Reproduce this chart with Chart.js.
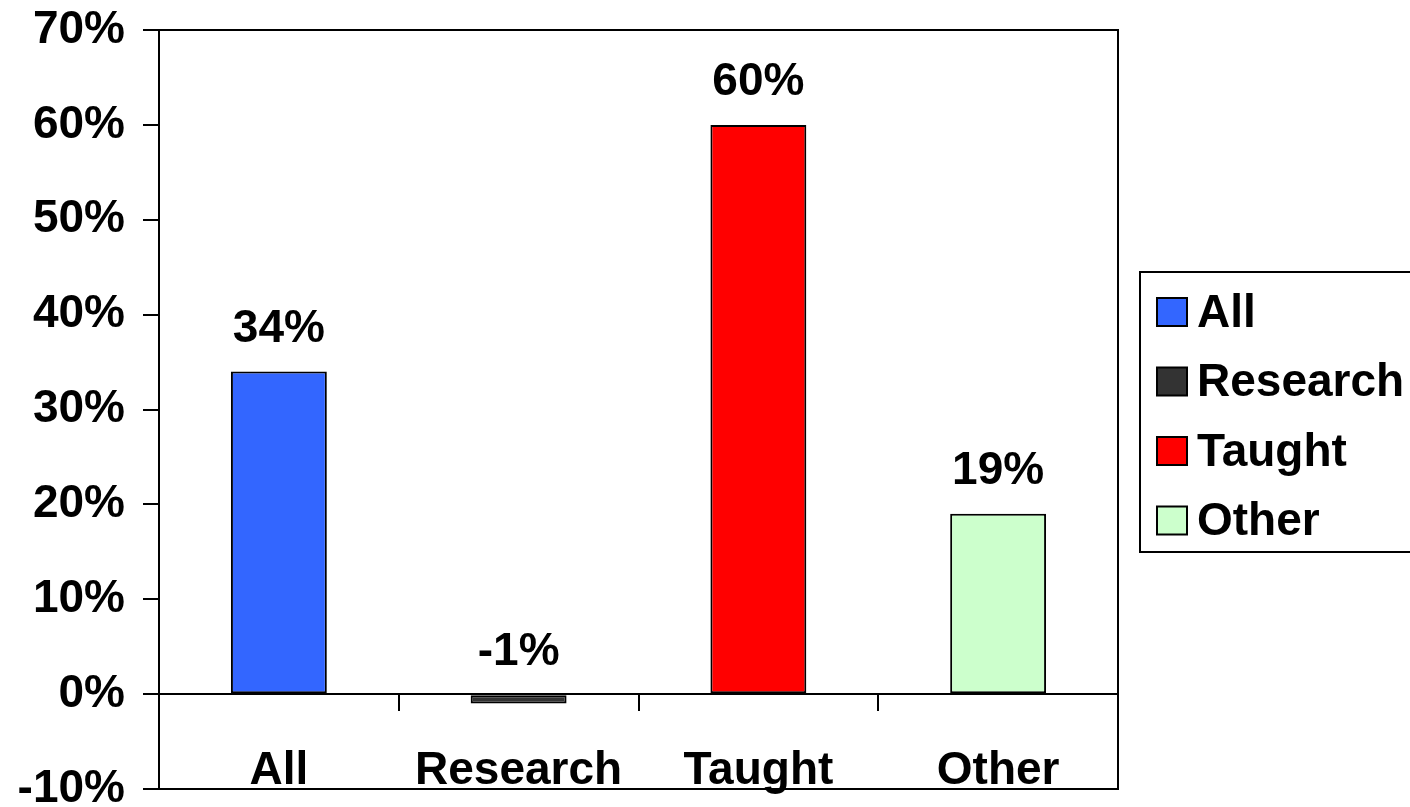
<!DOCTYPE html>
<html>
<head>
<meta charset="utf-8">
<script src="https://cdn.jsdelivr.net/npm/chart.js@4"></script>
<style>
  html, body { margin: 0; padding: 0; background: #fff; }
  #wrap { width: 1410px; height: 807px; position: relative; }
</style>
</head>
<body>
<div id="wrap"><canvas id="chart"></canvas></div>
<script>
const categories = ['All', 'Research', 'Taught', 'Other'];
const changePct = [34, -1, 60, 19];
const barColors = ['#3366ff', '#333333', '#ff0000', '#ccffcc'];
const yMin = -10;
const yMax = 70;
const yStep = 10;

const FAMILY = '"Liberation Sans", Arial, sans-serif';
const FONT = 'bold 46px ' + FAMILY;

// frame, zero line, category names, value labels and the boxed legend
const decorations = {
    id: 'decorations',
    afterDatasetsDraw(chart) {
        const { ctx, chartArea: a, scales: { x, y } } = chart;
        ctx.save();
        ctx.strokeStyle = '#000';
        ctx.lineWidth = 2;

        ctx.strokeRect(a.left, a.top, a.right - a.left, a.bottom - a.top);

        const y0 = Math.round(y.getPixelForValue(0));
        const half = (x.getPixelForValue(1) - x.getPixelForValue(0)) / 2;
        ctx.beginPath();
        ctx.moveTo(a.left, y0);
        ctx.lineTo(a.right, y0);
        for (let i = 0; i < categories.length - 1; i++) {
            const xb = Math.round(x.getPixelForValue(i) + half);
            ctx.moveTo(xb, y0);
            ctx.lineTo(xb, y0 + 17);
        }
        ctx.stroke();

        ctx.font = FONT;
        ctx.fillStyle = '#000';
        ctx.textAlign = 'center';
        ctx.textBaseline = 'alphabetic';
        categories.forEach((c, i) => ctx.fillText(c, x.getPixelForValue(i), a.bottom - 5));

        chart.getDatasetMeta(0).data.forEach((bar, i) => {
            ctx.fillText(changePct[i] + '%', bar.x, Math.min(bar.y, bar.base) - 30);
        });

        // legend
        const lx = a.right + 22;
        const ly = 272;
        ctx.strokeRect(lx, ly, chart.width - lx + 4, 280);
        ctx.textAlign = 'left';
        ctx.textBaseline = 'middle';
        categories.forEach((c, i) => {
            const cy = ly + 40 + i * 69.5;
            ctx.fillStyle = barColors[i];
            ctx.fillRect(lx + 17, cy - 14, 30, 28);
            ctx.strokeRect(lx + 17, cy - 14, 30, 28);
            ctx.fillStyle = '#000';
            ctx.fillText(c, lx + 57, cy + 2);
        });
        ctx.restore();
    }
};

new Chart(document.getElementById('chart'), {
    type: 'bar',
    data: {
        labels: categories,
        datasets: [{
            data: changePct,
            backgroundColor: barColors,
            borderColor: '#000',
            borderWidth: 2,
            borderSkipped: false,
            categoryPercentage: 1,
            barPercentage: 0.4
        }]
    },
    options: {
        responsive: true,
        maintainAspectRatio: false,
        animation: false,
        layout: { padding: { top: 30, right: 292, bottom: 18, left: 0 } },
        plugins: {
            legend: { display: false },
            tooltip: { enabled: false }
        },
        scales: {
            x: { display: false },
            y: {
                min: yMin,
                max: yMax,
                ticks: {
                    stepSize: yStep,
                    padding: 18,
                    color: '#000',
                    font: { family: FAMILY, size: 46, weight: 'bold' },
                    callback: v => v + '%'
                },
                grid: { drawOnChartArea: false, tickLength: 16, color: '#000', lineWidth: 2 },
                border: { display: false },
                afterFit: s => {
                    s.width = 159;
                    s.paddingTop = 0;
                    s.paddingBottom = 0;
                }
            }
        }
    },
    plugins: [decorations]
});
</script>
</body>
</html>
